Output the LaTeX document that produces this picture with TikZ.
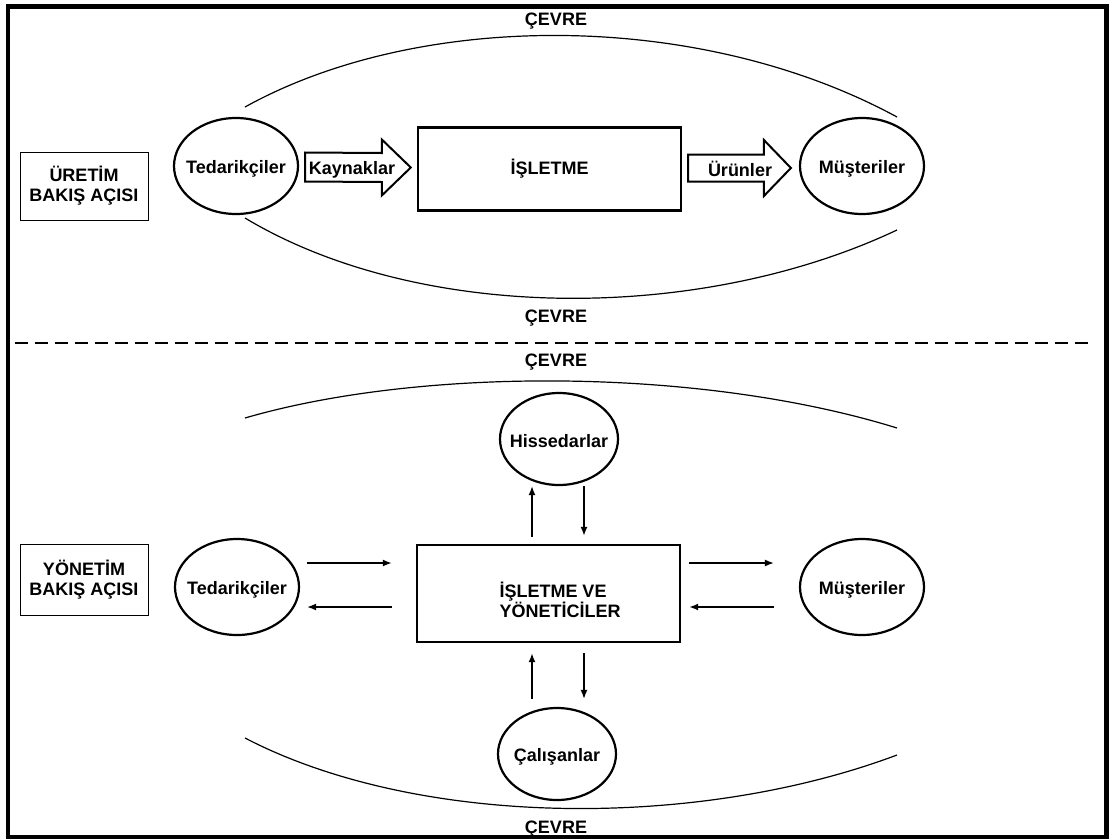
\documentclass[tikz,border=0pt]{standalone}
\usepackage{fontspec}
\setmainfont{Liberation Sans}
\usetikzlibrary{shapes.geometric,arrows.meta,calc}
\begin{document}
\begin{tikzpicture}[x=1pt,y=-1pt,
  every node/.style={font=\bfseries\fontsize{18}{20}\selectfont},
  party/.style={draw,ellipse,line width=2.2pt,minimum width=124pt,minimum height=96pt,inner sep=0pt,
    label={[plain,yshift=-2.5pt]center:#1}},
  firm/.style={draw,rectangle,line width=2.4pt,inner sep=0pt},
  tagbox/.style={draw,rectangle,line width=1pt,align=center,inner sep=0pt,minimum width=128pt},
  env/.style={line width=1.2pt},
  conn/.style={line width=1.5pt,-{Latex[length=9pt,width=7pt]}},
  bigarrow/.style={draw,line width=2pt,fill=white,line join=miter},
  plain/.style={inner sep=0pt}
]
\useasboundingbox (0,0) rectangle (1109,839);

% ---------- production view ----------
\node[tagbox,minimum height=68pt] (tagA) at (84,186) {ÜRETİM\\BAKIŞ AÇISI};
\node[party=Tedarikçiler] (ted1) at (236,166) {};
\node[firm,minimum width=263pt,minimum height=83pt] (firm1) at (549.5,169) {İŞLETME};
\node[party=Müşteriler] (mus1) at (862,166) {};

% environment boundary
\draw[env] (245,107) .. controls (420,10) and (700,10) .. (897,117);
\draw[env] (245,218) .. controls (420,323) and (700,323) .. (897,230);
\node[plain] (env1) at (556,21) {ÇEVRE};
\node[plain] (env2) at (556,318) {ÇEVRE};

% block arrows
\coordinate (ka) at ($(ted1.east)+(6,1)$);
\coordinate (kb) at ($(firm1.west)+(-6,-1.5)$);
\draw[bigarrow] ($(ka)+(0,-14.5)$) -- ($(kb)+(-29,-14.5)$) -- ($(kb)+(-29,-28)$) -- (kb)
  -- ($(kb)+(-29,28)$) -- ($(kb)+(-29,14.5)$) -- ($(ka)+(0,14.5)$) -- cycle;
\node[plain] (res) at (352,170) {Kaynaklar};

\coordinate (ua) at ($(firm1.east)+(6,-1)$);
\coordinate (ub) at ($(mus1.west)+(-8,2)$);
\draw[bigarrow] ($(ua)+(0,-13.5)$) -- ($(ub)+(-27,-13.5)$) -- ($(ub)+(-27,-28)$) -- (ub)
  -- ($(ub)+(-27,28)$) -- ($(ub)+(-27,13.5)$) -- ($(ua)+(0,13.5)$) -- cycle;
\node[plain] (prod) at (740,169) {Ürünler};

% separator
\draw[line width=1.5pt,dash pattern=on 13pt off 7pt] (15,343) -- (1090,343);

% ---------- management view ----------
\node[tagbox,minimum height=71pt] (tagB) at (84,579.5) {YÖNETİM\\BAKIŞ AÇISI};
\node[party=Tedarikçiler] (ted2) at (237,587) {};
\node[party=Müşteriler] (mus2) at (862,587) {};
\node[party=Hissedarlar,minimum width=118pt,minimum height=92pt] (hisse) at (559,439) {};
\node[party=Çalışanlar,minimum width=118pt,minimum height=92pt] (calis) at (557,754) {};
\node[firm,minimum width=263pt,minimum height=97pt] (mgmt) at (548.5,593.5) {};
\node[plain,align=left] (mgmtTxt) at (560,600) {İŞLETME VE\\YÖNETİCİLER};

\draw[env] (245,418) .. controls (420,367) and (700,367) .. (897,428);
\draw[env] (245,738) .. controls (420,829) and (700,829) .. (897,755);
\node[plain] (env3) at (556,362) {ÇEVRE};
\node[plain] (env4) at (556,829) {ÇEVRE};

% exchanges with the shareholders
\draw[conn] ($(hisse.south |- mgmt.north)+(-27,-7)$) -- ($(hisse.south)+(-27,0)$);
\draw[conn] ($(hisse.south)+(25,0)$) -- ($(hisse.south |- mgmt.north)+(25,-8)$);
% exchanges with the employees
\draw[conn] ($(calis.north)+(-25,-8)$) -- ($(calis.north |- mgmt.south)+(-25,10)$);
\draw[conn] ($(calis.north |- mgmt.south)+(27,10)$) -- ($(calis.north)+(27,-8)$);
% exchanges with the suppliers
\draw[conn] ($(ted2.east)+(7,-24)$) -- ($(mgmt.west |- ted2.east)+(-24,-24)$);
\draw[conn] ($(mgmt.west |- ted2.east)+(-24,20)$) -- ($(ted2.east)+(7,20)$);
% exchanges with the customers
\draw[conn] ($(mgmt.east |- mus2.west)+(8,-24)$) -- ($(mus2.west)+(-25,-24)$);
\draw[conn] ($(mus2.west)+(-25,20)$) -- ($(mgmt.east |- mus2.west)+(8,20)$);

% outer frame
\draw[line width=4.5pt] (8,6.5) rectangle (1106.5,837);
\end{tikzpicture}
\end{document}
